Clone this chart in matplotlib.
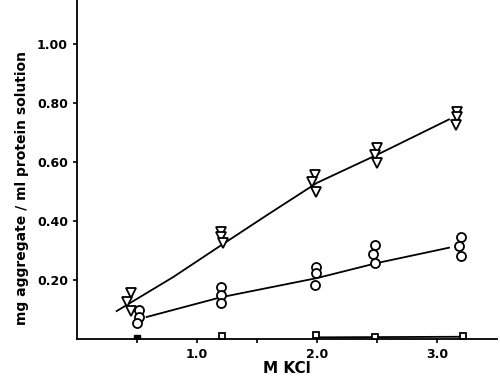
import matplotlib
matplotlib.use("Agg")
from matplotlib import pyplot as plt

# KCl concentration (M) and measured aggregate (mg/ml)
tri_x = [0.45, 0.42, 0.45, 1.2, 1.2, 1.22, 1.98, 1.96, 1.99, 2.5, 2.48, 2.5, 3.17, 3.17, 3.16]
tri_y = [0.156, 0.125, 0.095, 0.363, 0.346, 0.325, 0.556, 0.532, 0.498, 0.647, 0.624, 0.597, 0.77, 0.753, 0.725]
circ_x = [0.52, 0.52, 0.5, 1.2, 1.2, 1.2, 1.99, 1.99, 1.98, 2.48, 2.47, 2.48, 3.2, 3.18, 3.2]
circ_y = [0.098, 0.075, 0.054, 0.176, 0.149, 0.122, 0.244, 0.224, 0.183, 0.319, 0.288, 0.258, 0.346, 0.315, 0.281]
sq_x = [1.21, 1.99, 2.48, 3.22]
sq_y = [0.01, 0.015, 0.008, 0.01]
sq_filled_x = [0.5]
sq_filled_y = [0.003]

# hand-drawn fitted curves
tri_fit_x = [0.33, 0.8, 1.2, 1.6, 2.0, 2.5, 3.1]
tri_fit_y = [0.095, 0.21, 0.318, 0.425, 0.53, 0.625, 0.745]
circ_fit_x = [0.58, 1.2, 2.0, 2.5, 3.1]
circ_fit_y = [0.075, 0.142, 0.207, 0.258, 0.31]
sq_fit_x = [2.0, 2.6, 3.2]
sq_fit_y = [0.006, 0.007, 0.008]

xticks = [0.5, 1.0, 1.5, 2.0, 2.5, 3.0]
xticklabels = ["", "1.0", "", "2.0", "", "3.0"]
yticks = [0.2, 0.4, 0.6, 0.8, 1.0]
yticklabels = ["0.20", "0.40", "0.60", "0.80", "1.00"]

fig = plt.figure(figsize=(5, 3.88), dpi=100)
ax = fig.add_axes([0.154, 0.126, 0.84, 0.874])

ax.plot(tri_fit_x, tri_fit_y, color="black", lw=1.3)
ax.plot(circ_fit_x, circ_fit_y, color="black", lw=1.3)
ax.plot(sq_fit_x, sq_fit_y, color="black", lw=1.3)

ax.plot(tri_x, tri_y, "v", ms=6.5, mfc="white", mec="black", mew=1.3, ls="none")
ax.plot(circ_x, circ_y, "o", ms=6.5, mfc="white", mec="black", mew=1.3, ls="none")
ax.plot(sq_x, sq_y, "s", ms=5, mfc="white", mec="black", mew=1.3, ls="none")
ax.plot(sq_filled_x, sq_filled_y, "s", ms=4, color="black", ls="none")

ax.set_xlim(0, 3.5)
ax.set_ylim(0, 1.15)
ax.set_xticks(xticks)
ax.set_xticklabels(xticklabels, fontsize=9, fontweight="bold")
ax.set_yticks(yticks)
ax.set_yticklabels(yticklabels, fontsize=9, fontweight="bold")
ax.tick_params(length=3, width=1.2)

for s in ["top", "right"]:
    ax.spines[s].set_visible(False)
for s in ["left", "bottom"]:
    ax.spines[s].set_linewidth(1.3)

ax.set_xlabel("M KCl", fontsize=11, fontweight="bold", labelpad=0)
ax.set_ylabel("mg aggregate / ml protein solution", fontsize=10, fontweight="bold")
ax.yaxis.set_label_coords(-0.115, 0.445)

fig.savefig("out.png", dpi=100)
